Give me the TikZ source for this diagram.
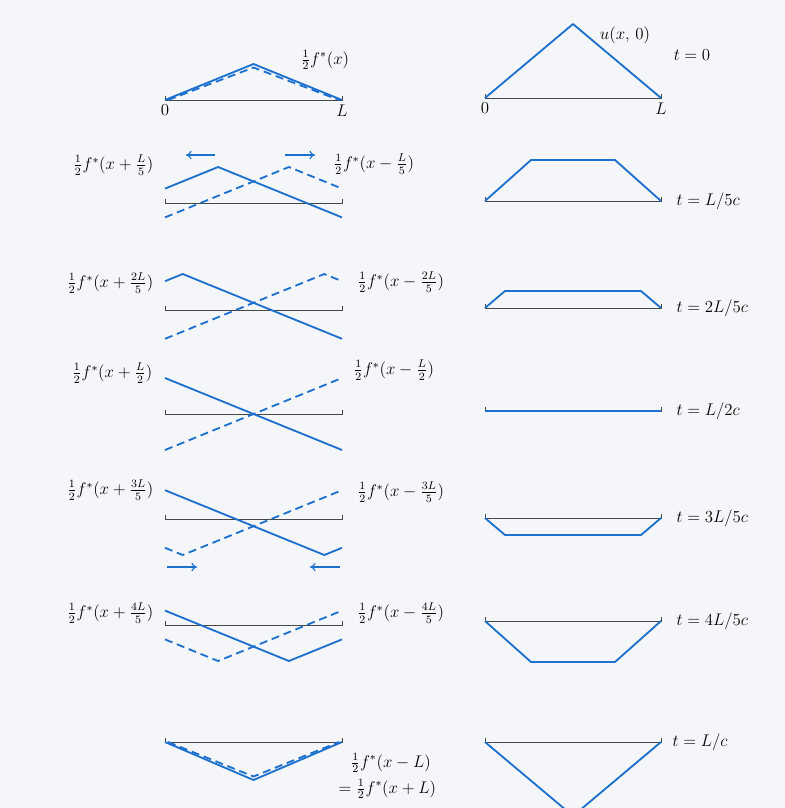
\documentclass[tikz,border=0pt]{standalone}
\usepackage{amsmath,amssymb}
\usepackage{tikz}
\usetikzlibrary{positioning,arrows.meta}
\definecolor{wave}{RGB}{28,112,206}
\definecolor{paper}{RGB}{245,246,250}
% string at rest: line with two small end ticks
\newcommand{\strng}[2]{\draw[ax] ([yshift=1mm]#1) -- (#1) -- (#2) -- ([yshift=1mm]#2);}

\begin{document}
\begin{tikzpicture}[x=0.25mm, y=-0.25mm,
	every node/.style={font=\fontsize{11.5}{13}\selectfont, inner sep=1pt},
	ax/.style={draw=black!72, line width=0.6pt},
	wv/.style={draw=wave, line width=1.3pt, line join=round},
	wvd/.style={wv, dash pattern=on 2mm off 1.2mm},
	mv/.style={draw=wave, line width=0.8pt, -{To[length=4pt,width=6pt]}}]
	\fill[paper] (0,0) rectangle (785,808);
	\clip (0,0) rectangle (785,808);
	% axis ends, left and right column
	\coordinate (l1a) at (165,100); \coordinate (l1b) at (342,100);
	\coordinate (l2a) at (165,203); \coordinate (l2b) at (342,203);
	\coordinate (l3a) at (165,310); \coordinate (l3b) at (342,310);
	\coordinate (l4a) at (165,414); \coordinate (l4b) at (342,414);
	\coordinate (l5a) at (165,519); \coordinate (l5b) at (342,519);
	\coordinate (l6a) at (165,625); \coordinate (l6b) at (342,625);
	\coordinate (l7a) at (165,742); \coordinate (l7b) at (342,742);
	\coordinate (r1a) at (485,98); \coordinate (r1b) at (661,98);
	\coordinate (r2a) at (485,201); \coordinate (r2b) at (661,201);
	\coordinate (r3a) at (485,308); \coordinate (r3b) at (661,308);
	\coordinate (r4a) at (485,411); \coordinate (r4b) at (661,411);
	\coordinate (r5a) at (485,518); \coordinate (r5b) at (661,518);
	\coordinate (r6a) at (485,621); \coordinate (r6b) at (661,621);
	\coordinate (r7a) at (485,742); \coordinate (r7b) at (661,742);
	\strng{l1a}{l1b} \strng{l2a}{l2b} \strng{l3a}{l3b} \strng{l4a}{l4b}
	\strng{l5a}{l5b} \strng{l6a}{l6b} \strng{l7a}{l7b}
	\strng{r1a}{r1b} \strng{r2a}{r2b} \strng{r3a}{r3b} \strng{r4a}{r4b}
	\strng{r5a}{r5b} \strng{r6a}{r6b} \strng{r7a}{r7b}
	% t = 0
	\draw[wv] (l1a) -- (253.5,64) -- (l1b);
	\draw[wvd] (168,100) -- (253.5,67.5) -- (339,100);
	\draw[wv] (r1a) -- (573,24) -- (r1b);
	\node (f0) at (325,60) {$\tfrac12 f^*(x)$};
	\node[below=2pt of l1a] (zl) {$0$};
	\node[below=2pt of l1b] (ll) {$L$};
	\node[below=2pt of r1a] (zr) {$0$};
	\node[below=2pt of r1b] (lr) {$L$};
	\node (u0) at (625,35) {$u(x,\,0)$};
	\node (t1) at (692,55) {$t = 0$};
	% t = L/5c
	\draw[wv] (165,188.6) -- (218.1,167) -- (342,217.4);
	\draw[wvd] (165,217.4) -- (288.9,167) -- (342,188.6);
	\coordinate (m1a) at (215,155); \coordinate (m1b) at (186,155);
	\coordinate (m2a) at (285,155); \coordinate (m2b) at (315,155);
	\draw[mv] (m1a) -- (m1b);
	\draw[mv] (m2a) -- (m2b);
	\node[anchor=east] (p2) at (155,165) {$\tfrac12 f^*(x+\tfrac{L}{5})$};
	\node[anchor=west] (q2) at (332,164) {$\tfrac12 f^*(x-\tfrac{L}{5})$};
	\draw[wv] (r2a) -- (531,160) -- (615,160) -- (r2b);
	\node[right=3.5mm of r2b] (t2) {$t = L/5c$};
	% t = 2L/5c
	\draw[wv] (165,281.2) -- (182.7,274) -- (342,338.8);
	\draw[wvd] (165,338.8) -- (324.3,274) -- (342,281.2);
	\node[anchor=east] (p3) at (155,283) {$\tfrac12 f^*(x+\tfrac{2L}{5})$};
	\node[anchor=west] (q3) at (356,282) {$\tfrac12 f^*(x-\tfrac{2L}{5})$};
	\draw[wv] (r3a) -- (505,291) -- (641,291) -- (r3b);
	\node[right=3.5mm of r3b] (t3) {$t = 2L/5c$};
	% t = L/2c
	\draw[wv] (165,378) -- (342,450);
	\draw[wvd] (165,450) -- (342,378);
	\node[anchor=east] (p4) at (154,373) {$\tfrac12 f^*(x+\tfrac{L}{2})$};
	\node[anchor=west] (q4) at (352,370) {$\tfrac12 f^*(x-\tfrac{L}{2})$};
	\draw[wv] (r4a) -- (r4b);
	\node[right=3.5mm of r4b] (t4) {$t = L/2c$};
	% t = 3L/5c
	\draw[wv] (165,490.2) -- (324.3,555) -- (342,547.8);
	\draw[wvd] (165,547.8) -- (182.7,555) -- (342,490.2);
	\coordinate (m3a) at (167,567); \coordinate (m3b) at (197,567);
	\coordinate (m4a) at (340,567); \coordinate (m4b) at (310,567);
	\draw[mv] (m3a) -- (m3b);
	\draw[mv] (m4a) -- (m4b);
	\node[anchor=east] (p5) at (155,490) {$\tfrac12 f^*(x+\tfrac{3L}{5})$};
	\node[anchor=west] (q5) at (356,492) {$\tfrac12 f^*(x-\tfrac{3L}{5})$};
	\draw[wv] (r5a) -- (505,535) -- (641,535) -- (r5b);
	\node[right=3.5mm of r5b] (t5) {$t = 3L/5c$};
	% t = 4L/5c
	\draw[wv] (165,610.6) -- (288.9,661) -- (342,639.4);
	\draw[wvd] (165,639.4) -- (218.1,661) -- (342,610.6);
	\node[anchor=east] (p6) at (155,613) {$\tfrac12 f^*(x+\tfrac{4L}{5})$};
	\node[anchor=west] (q6) at (356,613) {$\tfrac12 f^*(x-\tfrac{4L}{5})$};
	\draw[wv] (r6a) -- (531,662) -- (615,662) -- (r6b);
	\node[right=3.5mm of r6b] (t6) {$t = 4L/5c$};
	% t = L/c
	\draw[wv] (l7a) -- (253.5,780) -- (l7b);
	\draw[wvd] (168,742) -- (253.5,776.5) -- (339,742);
	\node[anchor=west] (q7) at (349,763) {$\tfrac12 f^*(x-L)$};
	\node[anchor=west] (p7) at (337,789) {$=\tfrac12 f^*(x+L)$};
	\draw[wv] (r7a) -- (573,816) -- (r7b);
	\node[right=2.5mm of r7b] (t7) {$t = L/c$};
\end{tikzpicture}
\end{document}
